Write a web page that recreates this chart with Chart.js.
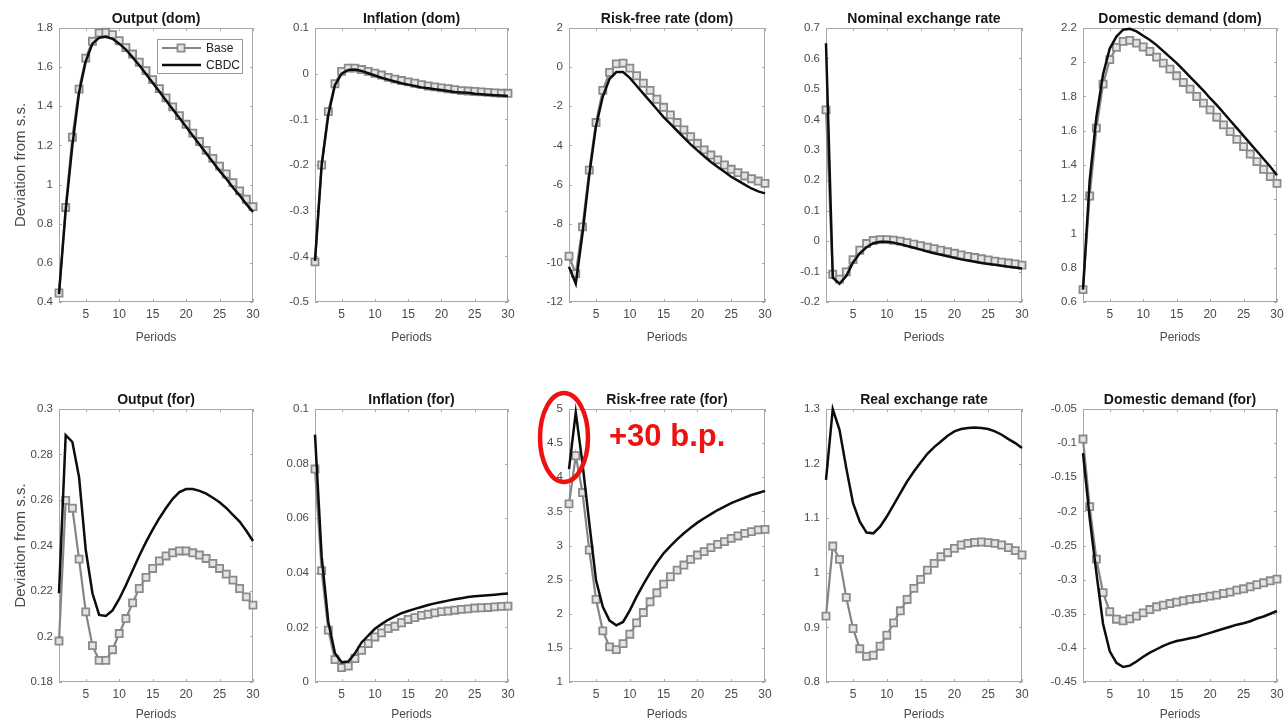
<!DOCTYPE html>
<html lang="en">
<head>
    <meta charset="UTF-8">
    <title>Impulse responses: Base vs CBDC</title>
    <script src="https://cdn.jsdelivr.net/npm/chart.js@4"></script>
    <style>
        html, body { margin: 0; padding: 0; background: #fff; overflow: hidden; }
        body { width: 1285px; height: 723px; position: relative; }
        .panel { position: absolute; }
    </style>
</head>
<body>
<script>
// ---- data ----
const periods = [1, 2, 3, 4, 5, 6, 7, 8, 9, 10, 11, 12, 13, 14, 15, 16, 17, 18, 19, 20, 21, 22, 23, 24, 25, 26, 27, 28, 29, 30];
const xTicks = [5, 10, 15, 20, 25, 30];

const outputDomBase = [0.446, 0.883, 1.242, 1.488, 1.646, 1.732, 1.775, 1.778, 1.766, 1.735, 1.700, 1.667, 1.625, 1.582, 1.536, 1.490, 1.443, 1.397, 1.352, 1.308, 1.263, 1.220, 1.175, 1.134, 1.094, 1.054, 1.010, 0.968, 0.925, 0.887];
const outputDomCbdc = [0.44, 0.87, 1.20, 1.47, 1.63, 1.72, 1.75, 1.755, 1.745, 1.72, 1.69, 1.65, 1.61, 1.565, 1.52, 1.475, 1.43, 1.385, 1.34, 1.295, 1.25, 1.205, 1.16, 1.115, 1.07, 1.03, 0.985, 0.945, 0.90, 0.86];
const outputDomTicks = [0.4, 0.6, 0.8, 1, 1.2, 1.4, 1.6, 1.8];

const inflDomBase = [-0.412, -0.200, -0.083, -0.022, 0.005, 0.012, 0.012, 0.009, 0.005, 0.001, -0.003, -0.008, -0.012, -0.015, -0.018, -0.021, -0.024, -0.027, -0.029, -0.031, -0.033, -0.035, -0.037, -0.038, -0.039, -0.040, -0.041, -0.042, -0.043, -0.043];
const inflDomCbdc = [-0.41, -0.20, -0.09, -0.025, 0.0, 0.008, 0.009, 0.006, 0.001, -0.004, -0.009, -0.013, -0.017, -0.021, -0.024, -0.027, -0.030, -0.032, -0.034, -0.036, -0.038, -0.040, -0.041, -0.042, -0.044, -0.045, -0.046, -0.047, -0.048, -0.049];
const inflDomTicks = [-0.5, -0.4, -0.3, -0.2, -0.1, 0, 0.1];

const rateDomBase = [-9.66, -10.55, -8.16, -5.26, -2.83, -1.19, -0.27, 0.17, 0.20, -0.05, -0.44, -0.82, -1.19, -1.64, -2.05, -2.44, -2.83, -3.21, -3.55, -3.89, -4.23, -4.49, -4.74, -5.00, -5.22, -5.39, -5.56, -5.70, -5.82, -5.94];
const rateDomCbdc = [-10.2, -11.06, -8.5, -5.5, -3.0, -1.5, -0.6, -0.25, -0.25, -0.55, -0.95, -1.35, -1.75, -2.15, -2.55, -2.9, -3.25, -3.6, -3.95, -4.25, -4.55, -4.85, -5.1, -5.35, -5.6, -5.8, -6.0, -6.2, -6.35, -6.45];
const rateDomTicks = [-12, -10, -8, -6, -4, -2, 0, 2];

const nerBase = [0.431, -0.109, -0.125, -0.101, -0.061, -0.03, -0.008, 0.002, 0.005, 0.005, 0.003, 0.0, -0.005, -0.01, -0.015, -0.02, -0.025, -0.03, -0.035, -0.04, -0.045, -0.05, -0.054, -0.058, -0.062, -0.066, -0.069, -0.072, -0.075, -0.079];
const nerCbdc = [0.65, -0.12, -0.14, -0.115, -0.07, -0.04, -0.02, -0.007, -0.002, -0.002, -0.005, -0.01, -0.016, -0.022, -0.028, -0.034, -0.04, -0.045, -0.05, -0.055, -0.06, -0.064, -0.068, -0.072, -0.075, -0.078, -0.081, -0.084, -0.087, -0.09];
const nerTicks = [-0.2, -0.1, 0, 0.1, 0.2, 0.3, 0.4, 0.5, 0.6, 0.7];

const demandDomBase = [0.672, 1.219, 1.615, 1.872, 2.015, 2.087, 2.122, 2.128, 2.112, 2.089, 2.063, 2.030, 1.995, 1.960, 1.921, 1.882, 1.843, 1.800, 1.761, 1.722, 1.679, 1.634, 1.595, 1.550, 1.507, 1.464, 1.420, 1.375, 1.332, 1.293];
const demandDomCbdc = [0.672, 1.31, 1.68, 1.93, 2.08, 2.15, 2.19, 2.195, 2.18, 2.155, 2.13, 2.10, 2.065, 2.03, 1.995, 1.955, 1.915, 1.875, 1.835, 1.79, 1.75, 1.705, 1.66, 1.615, 1.57, 1.525, 1.48, 1.435, 1.39, 1.34];
const demandDomTicks = [0.6, 0.8, 1, 1.2, 1.4, 1.6, 1.8, 2, 2.2];

const outputForBase = [0.198, 0.2598, 0.2564, 0.234, 0.2108, 0.196, 0.1895, 0.1895, 0.1942, 0.2013, 0.2079, 0.2148, 0.2211, 0.226, 0.2299, 0.2332, 0.2354, 0.2368, 0.2376, 0.2376, 0.2368, 0.2358, 0.2343, 0.2321, 0.2299, 0.2274, 0.2248, 0.2211, 0.2174, 0.2138];
const outputForCbdc = [0.219, 0.2885, 0.2855, 0.27, 0.238, 0.219, 0.2095, 0.209, 0.2115, 0.2165, 0.2225, 0.229, 0.2355, 0.2415, 0.247, 0.252, 0.2565, 0.2605, 0.2635, 0.2648, 0.2648, 0.264, 0.2628, 0.261, 0.259, 0.2565, 0.2535, 0.2505, 0.2465, 0.242];
const outputForTicks = [0.18, 0.2, 0.22, 0.24, 0.26, 0.28, 0.3];

const inflForBase = [0.078, 0.0408, 0.019, 0.0082, 0.0053, 0.0058, 0.0086, 0.0116, 0.0141, 0.0165, 0.018, 0.0196, 0.0204, 0.0217, 0.0229, 0.0236, 0.0244, 0.0248, 0.0253, 0.0258, 0.026, 0.0263, 0.0266, 0.0268, 0.0271, 0.0272, 0.0273, 0.0275, 0.0277, 0.0278];
const inflForCbdc = [0.0906, 0.046, 0.022, 0.0105, 0.0072, 0.0075, 0.0105, 0.0145, 0.017, 0.0195, 0.0212, 0.0228, 0.024, 0.0252, 0.026, 0.0268, 0.0275, 0.0282, 0.0288, 0.0293, 0.0298, 0.0303, 0.0307, 0.0311, 0.0314, 0.0316, 0.0318, 0.032, 0.0322, 0.0324];
const inflForTicks = [0, 0.02, 0.04, 0.06, 0.08, 0.1];

const rateForBase = [3.61, 4.315, 3.776, 2.934, 2.21, 1.75, 1.514, 1.475, 1.563, 1.70, 1.867, 2.018, 2.175, 2.307, 2.435, 2.542, 2.64, 2.714, 2.797, 2.86, 2.91, 2.968, 3.017, 3.056, 3.105, 3.14, 3.178, 3.203, 3.228, 3.237];
const rateForCbdc = [4.12, 4.95, 4.2, 3.33, 2.49, 2.10, 1.90, 1.83, 1.88, 2.05, 2.25, 2.43, 2.60, 2.75, 2.885, 2.99, 3.09, 3.18, 3.26, 3.335, 3.40, 3.46, 3.52, 3.57, 3.62, 3.66, 3.70, 3.74, 3.77, 3.80];
const rateForTicks = [1, 1.5, 2, 2.5, 3, 3.5, 4, 4.5, 5];

const rerBase = [0.9206, 1.049, 1.0246, 0.955, 0.898, 0.861, 0.847, 0.849, 0.8655, 0.8857, 0.9083, 0.9304, 0.9512, 0.9714, 0.9879, 1.005, 1.0173, 1.0295, 1.0368, 1.0448, 1.0509, 1.054, 1.0558, 1.0564, 1.0552, 1.054, 1.0509, 1.046, 1.0405, 1.0326];
const rerCbdc = [1.170, 1.300, 1.262, 1.1917, 1.1274, 1.0938, 1.0736, 1.0723, 1.0846, 1.103, 1.1244, 1.1458, 1.1672, 1.1856, 1.2021, 1.218, 1.2302, 1.2406, 1.251, 1.259, 1.2633, 1.2651, 1.2663, 1.2651, 1.2633, 1.259, 1.2529, 1.2449, 1.2376, 1.2284];
const rerTicks = [0.8, 0.9, 1, 1.1, 1.2, 1.3];

const demandForBase = [-0.094, -0.193, -0.270, -0.319, -0.347, -0.358, -0.3604, -0.3575, -0.3535, -0.3487, -0.3438, -0.3398, -0.3374, -0.335, -0.333, -0.331, -0.329, -0.3276, -0.3261, -0.3242, -0.3227, -0.3203, -0.3183, -0.3154, -0.3134, -0.3105, -0.3075, -0.3046, -0.3017, -0.2992];
const demandForCbdc = [-0.1146, -0.21, -0.29, -0.365, -0.405, -0.422, -0.428, -0.426, -0.42, -0.413, -0.407, -0.402, -0.397, -0.393, -0.39, -0.388, -0.386, -0.384, -0.381, -0.378, -0.375, -0.372, -0.369, -0.366, -0.364, -0.361, -0.357, -0.354, -0.35, -0.346];
const demandForTicks = [-0.45, -0.4, -0.35, -0.3, -0.25, -0.2, -0.15, -0.1, -0.05];

const seriesNames = ['Base', 'CBDC'];

// ---- layout (plot box of each panel, in page pixels) ----
const cols = [
    { l: 59, r: 253 },
    { l: 315, r: 508 },
    { l: 569, r: 765 },
    { l: 826, r: 1022 },
    { l: 1083, r: 1277 }
];
const rows = [
    { t: 28, b: 302, xh: 44 },
    { t: 409, b: 682, xh: 41 }
];

const panels = [
    { title: 'Output (dom)', base: outputDomBase, cbdc: outputDomCbdc, ticks: outputDomTicks, row: 0, col: 0, legend: true },
    { title: 'Inflation (dom)', base: inflDomBase, cbdc: inflDomCbdc, ticks: inflDomTicks, row: 0, col: 1 },
    { title: 'Risk-free rate (dom)', base: rateDomBase, cbdc: rateDomCbdc, ticks: rateDomTicks, row: 0, col: 2 },
    { title: 'Nominal exchange rate', base: nerBase, cbdc: nerCbdc, ticks: nerTicks, row: 0, col: 3 },
    { title: 'Domestic demand (dom)', base: demandDomBase, cbdc: demandDomCbdc, ticks: demandDomTicks, row: 0, col: 4 },
    { title: 'Output (for)', base: outputForBase, cbdc: outputForCbdc, ticks: outputForTicks, row: 1, col: 0 },
    { title: 'Inflation (for)', base: inflForBase, cbdc: inflForCbdc, ticks: inflForTicks, row: 1, col: 1 },
    { title: 'Risk-free rate (for)', base: rateForBase, cbdc: rateForCbdc, ticks: rateForTicks, row: 1, col: 2, note: true },
    { title: 'Real exchange rate', base: rerBase, cbdc: rerCbdc, ticks: rerTicks, row: 1, col: 3 },
    { title: 'Domestic demand (for)', base: demandForBase, cbdc: demandForCbdc, ticks: demandForTicks, row: 1, col: 4 }
];

const FONT = '"Liberation Sans", Arial, Helvetica, sans-serif';
Chart.defaults.font.family = FONT;
Chart.defaults.color = '#404040';

const TITLE_H = 21;
const PAD_R = 16;

// MATLAB-like box with inward ticks on all four sides
const boxPlugin = {
    id: 'matlabBox',
    beforeDatasetsDraw(chart) {
        const { ctx, chartArea: a, scales: { x, y } } = chart;
        ctx.save();
        ctx.strokeStyle = '#a8a8a8';
        ctx.lineWidth = 1;
        ctx.strokeRect(a.left + 0.5, a.top + 0.5, a.right - a.left - 1, a.bottom - a.top - 1);
        ctx.beginPath();
        x.ticks.forEach(t => {
            const px = Math.round(x.getPixelForValue(t.value)) + 0.5;
            ctx.moveTo(px, a.bottom); ctx.lineTo(px, a.bottom - 3);
            ctx.moveTo(px, a.top); ctx.lineTo(px, a.top + 3);
        });
        y.ticks.forEach(t => {
            const py = Math.round(y.getPixelForValue(t.value)) + 0.5;
            ctx.moveTo(a.left, py); ctx.lineTo(a.left + 3, py);
            ctx.moveTo(a.right, py); ctx.lineTo(a.right - 3, py);
        });
        ctx.stroke();
        ctx.restore();
    }
};

// legend box inside the first panel
const legendPlugin = {
    id: 'innerLegend',
    afterDraw(chart, args, opts) {
        if (!opts.show) return;
        const { ctx, chartArea: a } = chart;
        const w = 85, h = 34;
        const x0 = a.right - 11 - w, y0 = a.top + 11;
        ctx.save();
        ctx.fillStyle = '#fff';
        ctx.strokeStyle = '#9a9a9a';
        ctx.lineWidth = 1;
        ctx.fillRect(x0, y0, w, h);
        ctx.strokeRect(x0 + 0.5, y0 + 0.5, w, h);
        chart.data.datasets.forEach((ds, i) => {
            const yy = y0 + 9 + i * 17;
            ctx.strokeStyle = ds.borderColor;
            ctx.lineWidth = ds.borderWidth;
            ctx.beginPath();
            ctx.moveTo(x0 + 5, yy);
            ctx.lineTo(x0 + 44, yy);
            ctx.stroke();
            if (ds.pointRadius > 0) {
                ctx.fillStyle = ds.pointBackgroundColor;
                ctx.strokeStyle = ds.pointBorderColor;
                ctx.lineWidth = ds.pointBorderWidth;
                Chart.helpers.drawPoint(ctx, { pointStyle: 'rect', radius: ds.pointRadius, borderWidth: ds.pointBorderWidth }, x0 + 24, yy);
            }
            ctx.fillStyle = '#222';
            ctx.font = '12px ' + FONT;
            ctx.textBaseline = 'middle';
            ctx.fillText(ds.label, x0 + 49, yy + 0.5);
        });
        ctx.restore();
    }
};

// red highlight on the foreign risk-free rate panel
const notePlugin = {
    id: 'redNote',
    afterDraw(chart, args, opts) {
        if (!opts.show) return;
        const { ctx, chartArea: a } = chart;
        ctx.save();
        ctx.strokeStyle = '#ee1111';
        ctx.lineWidth = 4.5;
        ctx.beginPath();
        ctx.ellipse(a.left - 5, a.top + 28.5, 24, 44.5, 0, 0, Math.PI * 2);
        ctx.stroke();
        ctx.fillStyle = '#ee1111';
        ctx.font = 'bold 31px ' + FONT;
        ctx.textBaseline = 'alphabetic';
        ctx.fillText('+30 b.p.', a.left + 40, a.top + 37);
        ctx.restore();
    }
};

const fmt = v => String(Math.round(v * 1e6) / 1e6);

panels.forEach(p => {
    const c = cols[p.col], r = rows[p.row];
    const yW = p.col === 0 ? 59 : 48;
    const left = c.l - yW;
    const top = r.t - TITLE_H;
    const width = yW + (c.r - c.l) + PAD_R;
    const height = TITLE_H + (r.b - r.t) + r.xh;

    const div = document.createElement('div');
    div.className = 'panel';
    div.style.left = left + 'px';
    div.style.top = top + 'px';
    div.style.width = width + 'px';
    div.style.height = height + 'px';
    const canvas = document.createElement('canvas');
    canvas.width = width;
    canvas.height = height;
    div.appendChild(canvas);
    document.body.appendChild(div);

    new Chart(canvas, {
        type: 'line',
        data: {
            datasets: [
                {
                    label: seriesNames[0],
                    data: periods.map((t, i) => ({ x: t, y: p.base[i] })),
                    borderColor: '#858585',
                    borderWidth: 2.2,
                    pointStyle: 'rect',
                    pointRadius: 5,
                    pointBorderWidth: 1.8,
                    pointBorderColor: '#8a8a8a',
                    pointBackgroundColor: '#e4e4e4',
                    tension: 0,
                    clip: false,
                    order: 1
                },
                {
                    label: seriesNames[1],
                    data: periods.map((t, i) => ({ x: t, y: p.cbdc[i] })),
                    borderColor: '#0d0d0d',
                    borderWidth: 2.5,
                    pointRadius: 0,
                    tension: 0,
                    clip: false,
                    order: 0
                }
            ]
        },
        options: {
            responsive: false,
            animation: false,
            events: [],
            layout: { padding: { left: 0, top: 0, right: PAD_R, bottom: 0 } },
            plugins: {
                legend: { display: false },
                tooltip: { enabled: false },
                title: {
                    display: true,
                    text: p.title,
                    fullSize: false,
                    color: '#161616',
                    font: { size: 14, weight: 'bold', lineHeight: '16px' },
                    padding: { top: 4, bottom: 1 }
                },
                innerLegend: { show: !!p.legend },
                redNote: { show: !!p.note }
            },
            scales: {
                x: {
                    type: 'linear',
                    min: periods[0],
                    max: periods[periods.length - 1],
                    grid: { display: false, drawTicks: false },
                    border: { display: false },
                    afterBuildTicks: s => { s.ticks = xTicks.map(v => ({ value: v })); },
                    afterFit: s => { s.height = r.xh; },
                    ticks: { padding: 5, maxRotation: 0, font: { size: 12 }, color: '#4a4a4a', callback: fmt },
                    title: { display: true, text: 'Periods', font: { size: 12 }, color: '#4a4a4a', padding: { top: 0, bottom: 1 } }
                },
                y: {
                    type: 'linear',
                    min: p.ticks[0],
                    max: p.ticks[p.ticks.length - 1],
                    grid: { display: false, drawTicks: false },
                    border: { display: false },
                    afterBuildTicks: s => { s.ticks = p.ticks.map(v => ({ value: v })); },
                    afterFit: s => { s.width = yW; },
                    ticks: { padding: 6, font: { size: 11.5 }, color: '#4a4a4a', callback: fmt },
                    title: {
                        display: p.col === 0,
                        text: 'Deviation from s.s.',
                        font: { size: 15 },
                        color: '#4a4a4a',
                        padding: { top: 12, bottom: 0 }
                    }
                }
            }
        },
        plugins: [boxPlugin, legendPlugin, notePlugin]
    });
});
</script>
</body>
</html>
